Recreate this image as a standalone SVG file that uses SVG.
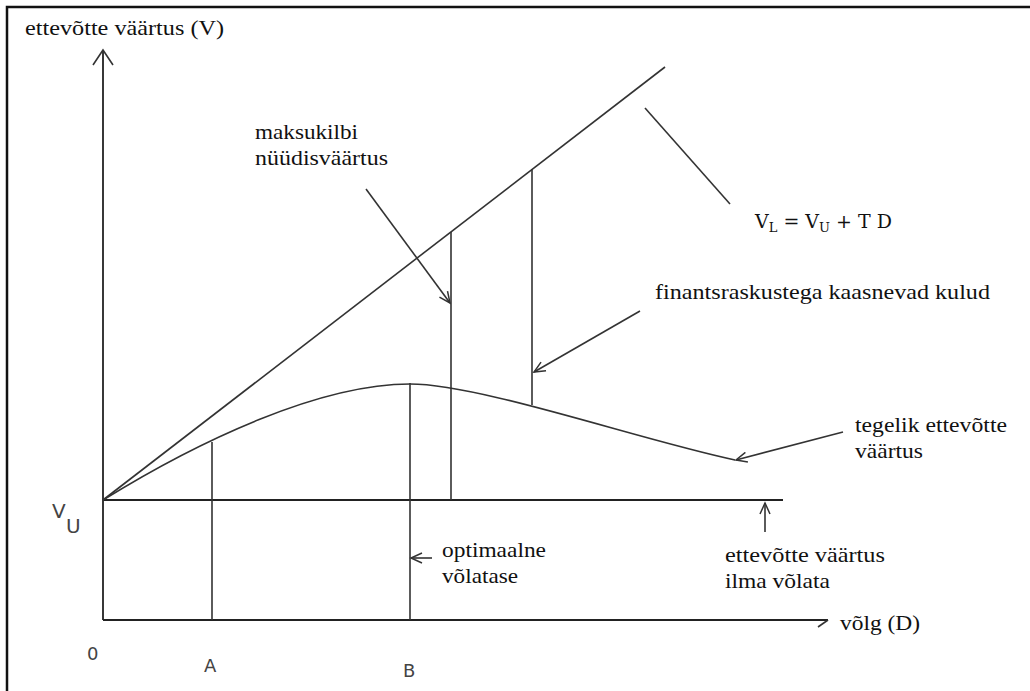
<svg xmlns="http://www.w3.org/2000/svg" width="1030" height="691" viewBox="0 0 1030 691">
<defs>
<style>
.t{font-family:"Liberation Serif","DejaVu Serif","Times New Roman",serif;font-size:21px;fill:#111}
.s{font-family:"DejaVu Sans","Liberation Sans",sans-serif;fill:#444}
.ln{stroke:#333;stroke-width:1.6;fill:none}
.ax{stroke:#222;stroke-width:1.8;fill:none}
.m{font-family:"DejaVu Serif","Liberation Serif",serif;font-size:19px;fill:#111}
</style>
<marker id="ah" markerWidth="14" markerHeight="12" refX="12" refY="6" orient="auto" markerUnits="userSpaceOnUse">
<path d="M1,1 L12,6 L1,11" fill="none" stroke="#333" stroke-width="1.5"/>
</marker>
</defs>
<rect x="0" y="0" width="1030" height="691" fill="#fff"/>
<path d="M7,691 V7 H1030" stroke="#111" stroke-width="2.5" fill="none"/>
<g id="axes">
<line class="ax" x1="103" y1="620" x2="103" y2="50"/>
<path class="ln" d="M93,65 L103,50 L113,65"/>
<line class="ax" x1="103" y1="620" x2="828" y2="620"/>
<path class="ln" d="M818,627 L828,620"/>
<line class="ax" x1="103" y1="500" x2="783" y2="500"/>
</g>
<g id="curves">
<line class="ln" x1="103" y1="500" x2="665" y2="67"/>
<path class="ln" d="M103,500 C200,440 320,384 410,384 C480,384 640,440 735,460"/>
</g>
<g id="verticals">
<line class="ln" x1="212" y1="442" x2="212" y2="620"/>
<line class="ln" x1="410" y1="383" x2="410" y2="620"/>
<line class="ln" x1="451" y1="232" x2="451" y2="500"/>
<line class="ln" x1="532" y1="169" x2="532" y2="405"/>
</g>
<g id="connectors">
<line class="ln" x1="366" y1="189" x2="450" y2="303" marker-end="url(#ah)"/>
<line class="ln" x1="640" y1="311" x2="534" y2="372" marker-end="url(#ah)"/>
<line class="ln" x1="843" y1="432" x2="736" y2="460" marker-end="url(#ah)"/>
<line class="ln" x1="645" y1="108" x2="730" y2="204"/>
<line class="ln" x1="765" y1="532" x2="765" y2="503" marker-end="url(#ah)"/>
<line class="ln" x1="432" y1="558" x2="411" y2="558" marker-end="url(#ah)"/>
</g>
<g id="labels">
<text class="t" x="25" y="35" textLength="199" lengthAdjust="spacingAndGlyphs">ettevõtte väärtus (V)</text>
<text class="t" x="255" y="139" textLength="103" lengthAdjust="spacingAndGlyphs">maksukilbi</text>
<text class="t" x="255" y="165" textLength="133" lengthAdjust="spacingAndGlyphs">nüüdisväärtus</text>
<text class="m" x="755" y="228">V<tspan font-size="13" dy="4">L</tspan><tspan dy="-4"> = V</tspan><tspan font-size="13" dy="4">U</tspan><tspan dy="-4"> + T D</tspan></text>
<text class="t" x="655" y="299" textLength="335" lengthAdjust="spacingAndGlyphs">finantsraskustega kaasnevad kulud</text>
<text class="t" x="855" y="432" textLength="152" lengthAdjust="spacingAndGlyphs">tegelik ettevõtte</text>
<text class="t" x="855" y="458" textLength="68" lengthAdjust="spacingAndGlyphs">väärtus</text>
<text class="t" x="442" y="557" textLength="104" lengthAdjust="spacingAndGlyphs">optimaalne</text>
<text class="t" x="442" y="583" textLength="76" lengthAdjust="spacingAndGlyphs">võlatase</text>
<text class="t" x="725" y="562" textLength="160" lengthAdjust="spacingAndGlyphs">ettevõtte väärtus</text>
<text class="t" x="725" y="588" textLength="105" lengthAdjust="spacingAndGlyphs">ilma võlata</text>
<text class="t" x="840" y="630" textLength="80" lengthAdjust="spacingAndGlyphs">võlg (D)</text>
<text class="s" x="52" y="518" font-size="20">V</text>
<text class="s" x="66" y="533" font-size="20">U</text>
<text class="s" x="87" y="660" font-size="18">0</text>
<text class="s" x="204" y="672" font-size="18">A</text>
<text class="s" x="403" y="677" font-size="18">B</text>
</g>
</svg>
